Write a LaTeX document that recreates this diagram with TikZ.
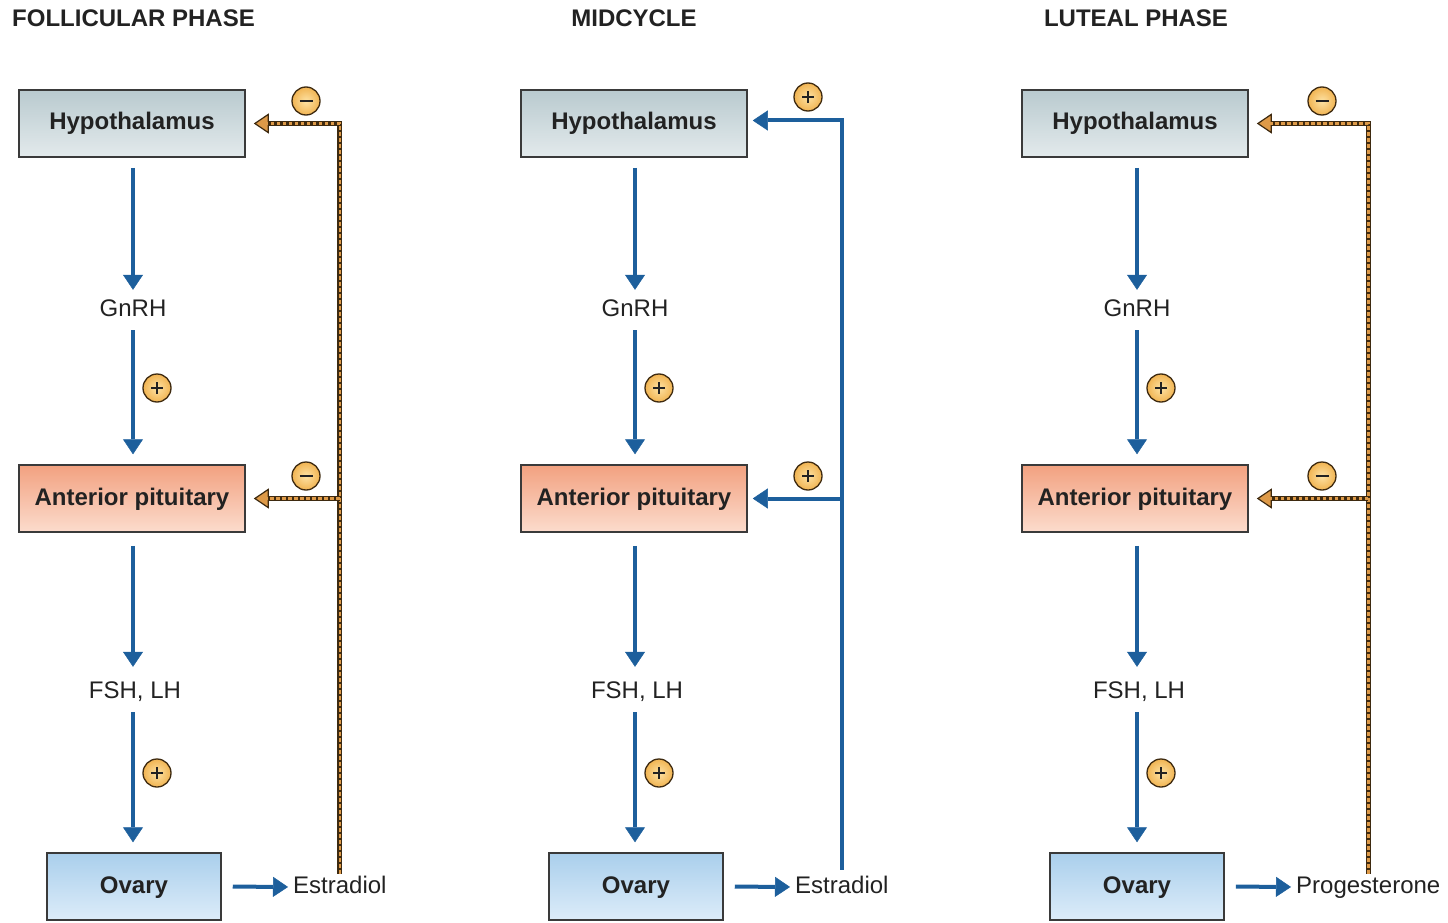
\documentclass[tikz,border=0pt]{standalone}
\usepackage{fontspec}
\setmainfont{Liberation Sans}
\usetikzlibrary{arrows.meta,calc}
\definecolor{ablue}{HTML}{1D5F9C}
\definecolor{txt}{HTML}{222222}
\definecolor{boxline}{HTML}{3A3A3A}
\definecolor{hypT}{HTML}{B9CACF}
\definecolor{hypB}{HTML}{E3EAEC}
\definecolor{antT}{HTML}{F2A180}
\definecolor{antB}{HTML}{FCDCCD}
\definecolor{ovT}{HTML}{AACFEC}
\definecolor{ovB}{HTML}{DCECF9}
\definecolor{brdark}{HTML}{3E2A10}
\definecolor{orng}{HTML}{DE9A48}
\definecolor{sgnIn}{HTML}{FDE2A4}
\definecolor{sgnOut}{HTML}{F1B452}
\begin{document}
\begin{tikzpicture}[x=1pt,y=-1pt,
  box/.style={draw=boxline, line width=1.5pt, minimum width=226pt, minimum height=67pt, inner sep=0,
    text height=17pt, text depth=4pt,
    font=\fontsize{24}{28}\selectfont\bfseries, text=txt},
  hypo/.style={box, top color=hypT, bottom color=hypB},
  ant/.style={box, top color=antT, bottom color=antB},
  ovy/.style={box, minimum width=174pt, top color=ovT, bottom color=ovB},
  lbl/.style={font=\fontsize{24}{28}\selectfont, text=txt, inner sep=0, minimum height=40pt,
    text height=17pt, text depth=4pt},
  ttl/.style={font=\fontsize{24}{28}\selectfont\bfseries, text=txt, inner sep=0},
  flow/.style={draw=ablue, line width=4pt, -{Triangle[length=15pt,width=20pt,line width=0.5pt]}},
  inh/.style={draw=brdark, line width=5pt,
    postaction={draw=orng, line width=2.6pt, dash pattern=on 3.5pt off 2.5pt, arrows=-, shorten >=#1}},
  inh/.default=0pt,
  inhtip/.style={-{Triangle[length=15pt,width=20pt,line width=1.2pt,fill=orng]}},
  sgn/.style={circle, draw=brdark, line width=1.3pt, inner color=sgnIn, outer color=sgnOut,
    minimum size=28pt, inner sep=0},
  plus/.style={sgn, path picture={\draw[txt, line width=2pt] (path picture bounding box.center) ++(-6,0) -- ++(12,0)
      (path picture bounding box.center) ++(0,-6) -- ++(0,12);}},
  minus/.style={sgn, path picture={\draw[txt, line width=2.6pt] (path picture bounding box.center) ++(-6.5,0) -- ++(13,0);}}
]
\useasboundingbox (0,0) rectangle (1448,923);

% titles
\node[ttl, anchor=west] (t1) at (12,18) {FOLLICULAR PHASE};
\node[ttl] (t2) at (634,18) {MIDCYCLE};
\node[ttl] (t3) at (1136,18) {LUTEAL PHASE};

% ---------- column 1 ----------
\node[hypo] (h1) at (132,123.5) {Hypothalamus};
\node[lbl] (g1) at (133,310) {GnRH};
\node[ant] (p1) at (132,498.5) {Anterior pituitary};
\node[lbl] (f1) at (135,692) {FSH, LH};
\node[ovy] (o1) at (134,886.5) {Ovary};
\node[lbl, anchor=west] (e1) at (293,887) {Estradiol};
\draw[flow, shorten <=10pt] (h1.south -| g1) -- (g1.north);
\draw[flow, shorten >=10pt] (g1.south) -- (g1.south |- p1.north);
\draw[flow, shorten <=13pt, shorten >=5pt] (p1.south -| g1) -- (g1.south |- f1.north);
\draw[flow, shorten >=10pt] (f1.south -| g1) -- (g1 |- o1.north);
\draw[flow, shorten <=11pt, shorten >=5pt] (o1.east) -- (e1.west);
\draw[inh=14pt, inhtip, shorten <=-7pt, shorten >=8pt] (e1.north) -- (e1.north |- h1.east) -- (h1.east);
\draw[inh=14pt, inhtip, shorten >=8pt] (e1.north |- p1.east) -- (p1.east);
\node[plus] (s1a) at (157,388) {};
\node[plus] (s1b) at (157,773) {};
\node[minus] (m1a) at (306,101) {};
\node[minus] (m1b) at (306,476) {};

% ---------- column 2 ----------
\node[hypo] (h2) at (634,123.5) {Hypothalamus};
\node[lbl] (g2) at (635,310) {GnRH};
\node[ant] (p2) at (634,498.5) {Anterior pituitary};
\node[lbl] (f2) at (637,692) {FSH, LH};
\node[ovy] (o2) at (636,886.5) {Ovary};
\node[lbl, anchor=west] (e2) at (795,887) {Estradiol};
\draw[flow, shorten <=10pt] (h2.south -| g2) -- (g2.north);
\draw[flow, shorten >=10pt] (g2.south) -- (g2.south |- p2.north);
\draw[flow, shorten <=13pt, shorten >=5pt] (p2.south -| g2) -- (g2.south |- f2.north);
\draw[flow, shorten >=10pt] (f2.south -| g2) -- (g2 |- o2.north);
\draw[flow, shorten <=11pt, shorten >=5pt] (o2.east) -- (e2.west);
\coordinate (c2top) at ($(e2.north |- h2.east)+(0,-3)$);
\draw[flow, shorten <=-3pt, shorten >=5pt] (e2.north) -- (c2top) -- (c2top -| h2.east);
\draw[flow, shorten >=5pt] (e2.north |- p2.east) -- (p2.east);
\node[plus] (s2a) at (659,388) {};
\node[plus] (s2b) at (659,773) {};
\node[plus] (s2c) at (808,97) {};
\node[plus] (s2d) at (808,476) {};

% ---------- column 3 ----------
\node[hypo] (h3) at (1135,123.5) {Hypothalamus};
\node[lbl] (g3) at (1137,310) {GnRH};
\node[ant] (p3) at (1135,498.5) {Anterior pituitary};
\node[lbl] (f3) at (1139,692) {FSH, LH};
\node[ovy] (o3) at (1137,886.5) {Ovary};
\node[lbl, anchor=west] (e3) at (1296,887) {Progesterone};
\draw[flow, shorten <=10pt] (h3.south -| g3) -- (g3.north);
\draw[flow, shorten >=10pt] (g3.south) -- (g3.south |- p3.north);
\draw[flow, shorten <=13pt, shorten >=5pt] (p3.south -| g3) -- (g3.south |- f3.north);
\draw[flow, shorten >=10pt] (f3.south -| g3) -- (g3 |- o3.north);
\draw[flow, shorten <=11pt, shorten >=5pt] (o3.east) -- (e3.west);
\draw[inh=14pt, inhtip, shorten <=-7pt, shorten >=8pt] (e3.north) -- (e3.north |- h3.east) -- (h3.east);
\draw[inh=14pt, inhtip, shorten >=8pt] (e3.north |- p3.east) -- (p3.east);
\node[plus] (s3a) at (1161,388) {};
\node[plus] (s3b) at (1161,773) {};
\node[minus] (m3a) at (1322,101) {};
\node[minus] (m3b) at (1322,476) {};
\end{tikzpicture}
\end{document}
